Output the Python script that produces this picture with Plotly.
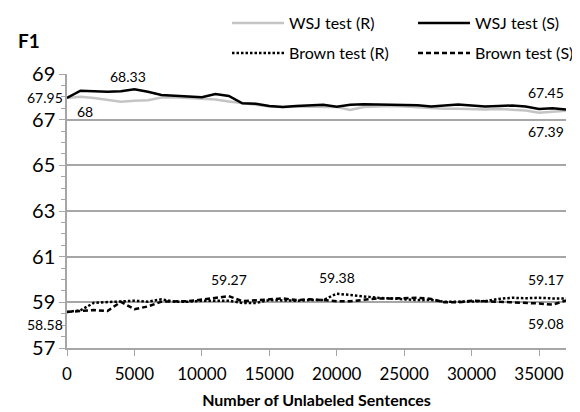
import plotly.graph_objects as go

x_sent = list(range(0, 38000, 1000))

wsj_r = [67.95, 68.00, 67.95, 67.88, 67.78, 67.83, 67.85, 67.97, 67.98, 67.95,
         67.93, 67.88, 67.80, 67.72, 67.65, 67.58, 67.55, 67.57, 67.58, 67.55,
         67.55, 67.42, 67.55, 67.58, 67.60, 67.58, 67.55, 67.50, 67.48, 67.48,
         67.45, 67.45, 67.47, 67.45, 67.40, 67.30, 67.36, 67.39]
wsj_s = [67.95, 68.27, 68.25, 68.22, 68.24, 68.33, 68.22, 68.08, 68.05, 68.03,
         67.98, 68.12, 68.04, 67.72, 67.70, 67.60, 67.55, 67.60, 67.62, 67.65,
         67.57, 67.65, 67.67, 67.66, 67.65, 67.62, 67.63, 67.58, 67.63, 67.66,
         67.62, 67.58, 67.60, 67.62, 67.58, 67.47, 67.50, 67.45]
brown_r = [58.58, 58.65, 58.98, 59.00, 59.05, 59.07, 59.03, 59.13, 59.03, 59.03,
           59.07, 59.07, 59.07, 58.97, 58.97, 59.10, 59.07, 59.07, 59.10, 59.10,
           59.38, 59.32, 59.25, 59.20, 59.17, 59.12, 59.10, 59.10, 59.03, 59.03,
           59.03, 59.05, 59.15, 59.20, 59.18, 59.20, 59.17, 59.17]
brown_s = [58.58, 58.62, 58.66, 58.62, 59.02, 58.70, 58.82, 59.03, 59.05, 59.05,
           59.12, 59.20, 59.27, 59.05, 59.10, 59.13, 59.17, 59.10, 59.13, 59.10,
           59.05, 59.05, 59.10, 59.17, 59.17, 59.20, 59.20, 59.15, 59.00, 59.00,
           59.07, 59.05, 59.03, 58.98, 58.97, 58.95, 58.90, 59.08]

x_ticks = [0, 5000, 10000, 15000, 20000, 25000, 30000, 35000]
y_ticks = [57, 59, 61, 63, 65, 67, 69]

FONT = "Lato"

fig = go.Figure()
fig.add_trace(go.Scatter(x=x_sent, y=wsj_r, mode="lines", name="WSJ test (R)",
                         line=dict(color="#c4c4c4", width=2.5), legend="legend"))
fig.add_trace(go.Scatter(x=x_sent, y=wsj_s, mode="lines", name="WSJ test (S)",
                         line=dict(color="#000000", width=2.5), legend="legend2"))
fig.add_trace(go.Scatter(x=x_sent, y=brown_r, mode="lines", name="Brown test (R)",
                         line=dict(color="#000000", width=2.5, dash="2.5px,2px"),
                         legend="legend3"))
fig.add_trace(go.Scatter(x=x_sent, y=brown_s, mode="lines", name="Brown test (S)",
                         line=dict(color="#000000", width=2.5, dash="5px,3px"),
                         legend="legend4"))

def lab(xv, yv, text, xanchor="center", yanchor="bottom", xshift=0, yshift=0):
    fig.add_annotation(x=xv, y=yv, text=text, showarrow=False, xanchor=xanchor,
                       yanchor=yanchor, xshift=xshift, yshift=yshift,
                       font=dict(family=FONT, size=14, color="#000"))

lab(x_sent[0], wsj_s[0], "67.95", xanchor="right", yanchor="middle", xshift=-2)
lab(x_sent[1], wsj_r[1], "68", xanchor="center", yanchor="top", xshift=5, yshift=-4)
lab(x_sent[5], wsj_s[5], "68.33", xshift=-6, yshift=2)
lab(x_sent[-1], wsj_s[-1], "67.45", xanchor="right", yshift=6)
lab(x_sent[-1], wsj_r[-1], "67.39", xanchor="right", yanchor="top", yshift=-10)
lab(x_sent[0], brown_s[0], "58.58", xanchor="right", yanchor="top", xshift=-2, yshift=-2)
lab(x_sent[12], brown_s[12], "59.27", yshift=6)
lab(x_sent[20], brown_r[20], "59.38", yshift=6)
lab(x_sent[-1], brown_r[-1], "59.17", xanchor="right", yshift=8)
lab(x_sent[-1], brown_s[-1], "59.08", xanchor="right", yanchor="top", yshift=-12)

fig.add_annotation(x=(8 - 59) / 499, y=1 + (66 - 32) / 274, xref="paper", yref="paper",
                   text="<b>F1</b>", showarrow=False, xanchor="left", yanchor="middle",
                   font=dict(family=FONT, size=19, color="#000"))

def leg(xpx, ypx):
    return dict(orientation="h", x=xpx / 580, xref="container", xanchor="left",
                y=1 - ypx / 412, yref="container", yanchor="middle",
                itemwidth=52, font=dict(family=FONT, size=16, color="#000"),
                bgcolor="rgba(0,0,0,0)")

fig.update_layout(
    width=580, height=412,
    margin=dict(l=59, r=22, t=66, b=72, autoexpand=False),
    paper_bgcolor="white", plot_bgcolor="white",
    font=dict(family=FONT, color="#000"),
    showlegend=True,
    legend=leg(219, 15),
    legend2=leg(405, 15),
    legend3=leg(219, 45),
    legend4=leg(405, 45),
    xaxis=dict(range=[0, 37000], tickvals=x_ticks, ticktext=[str(v) for v in x_ticks],
               showgrid=False, zeroline=False, showline=True, linecolor="#a6a6a6",
               linewidth=1.5, ticks="outside", ticklen=6, tickcolor="#a6a6a6",
               ticklabelstandoff=4,
               tickfont=dict(family=FONT, size=17, color="#000"),
               title=dict(text="<b>Number of Unlabeled Sentences</b>",
                          font=dict(family=FONT, size=16, color="#000"), standoff=12)),
    yaxis=dict(range=[57, 69], tickvals=y_ticks, ticktext=[str(v) for v in y_ticks],
               showgrid=True, gridcolor="#a6a6a6", gridwidth=1.5, zeroline=False,
               showline=True, linecolor="#a6a6a6", linewidth=1.5,
               ticks="outside", ticklen=6, tickcolor="#a6a6a6",
               minor=dict(dtick=0.5, tick0=57, ticks="outside", ticklen=4,
                          tickcolor="#a6a6a6", showgrid=False),
               tickfont=dict(family=FONT, size=20, color="#000")),
)

fig.write_html("out.html")
